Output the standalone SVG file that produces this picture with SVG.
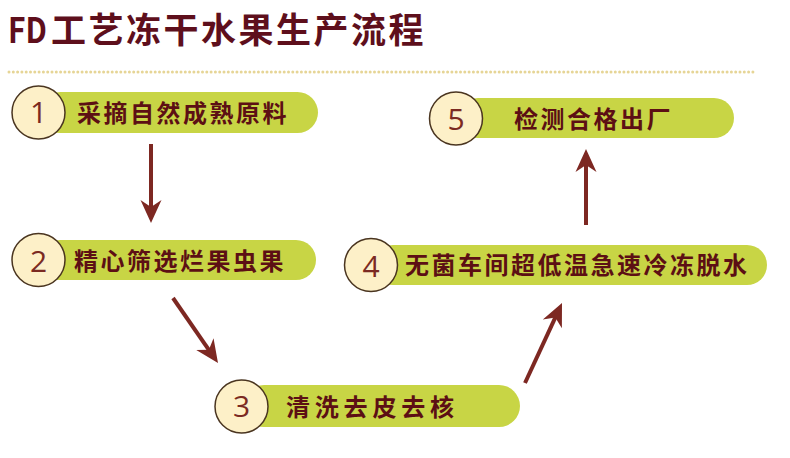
<svg xmlns="http://www.w3.org/2000/svg" width="790" height="458" viewBox="0 0 790 458">
<defs>
<style>
.title{font-family:"Noto Sans CJK SC","Liberation Sans",sans-serif;font-weight:bold;font-size:35px;fill:#5e0f1c}
.pill{fill:#c8d545}
.circ{fill:#fdf0c8;stroke:#4a3520;stroke-width:1.5}
.num{font-family:"Open Sans","Liberation Sans",sans-serif;font-size:30px;fill:#7b2a22;text-anchor:middle}
.lbl{font-family:"Noto Sans CJK SC",sans-serif;font-weight:bold;font-size:24px;fill:#5c0f14;letter-spacing:2.5px}
.arr{stroke:#7d2822;stroke-width:4;fill:none;marker-end:url(#ah)}
</style>
<marker id="ah" markerUnits="userSpaceOnUse" viewBox="-14 -11 25 22" markerWidth="25" markerHeight="22" refX="0" refY="0" orient="auto">
<path d="M10,0 L-13,-10.5 L-6,0 L-13,10.5 Z" fill="#7d2822"/>
</marker>
</defs>
<rect width="790" height="458" fill="#ffffff"/>
<text class="title" y="43"><tspan x="8" textLength="39" lengthAdjust="spacingAndGlyphs">FD</tspan><tspan x="51" letter-spacing="2.5">工艺冻干水果生产流程</tspan></text>
<line x1="9" y1="72" x2="757" y2="72" stroke="#e6d596" stroke-width="3" stroke-linecap="round" stroke-dasharray="0 4.3"/>
<g id="connectors">
<line class="arr" x1="151" y1="144" x2="151" y2="213"/>
<line class="arr" x1="173" y1="298" x2="212.3" y2="354.8"/>
<line class="arr" x1="525" y1="383" x2="557.8" y2="312.1"/>
<line class="arr" x1="586" y1="225" x2="586" y2="159"/>
</g>
<g id="node1">
<rect class="pill" x="40" y="92" width="278" height="41" rx="20.5"/>
<circle class="circ" cx="38.5" cy="112.5" r="26.5"/>
<text class="num" x="38.5" y="123">1</text>
<text class="lbl" x="77" y="121.5">采摘自然成熟原料</text>
</g>
<g id="node2">
<rect class="pill" x="40" y="240" width="276" height="40" rx="20"/>
<circle class="circ" cx="38.5" cy="260" r="26.5"/>
<text class="num" x="38.5" y="271.5">2</text>
<text class="lbl" x="74" y="270">精心筛选烂果虫果</text>
</g>
<g id="node3">
<rect class="pill" x="243" y="385" width="277" height="42" rx="21"/>
<circle class="circ" cx="241.5" cy="406.5" r="26.5"/>
<text class="num" x="241.5" y="416.5">3</text>
<text class="lbl" x="286" y="415.5" style="letter-spacing:4.8px">清洗去皮去核</text>
</g>
<g id="node4">
<rect class="pill" x="373" y="245" width="394" height="40" rx="20"/>
<circle class="circ" cx="371" cy="265" r="26.5"/>
<text class="num" x="371" y="276.5">4</text>
<text class="lbl" x="405" y="274">无菌车间超低温急速冷冻脱水</text>
</g>
<g id="node5">
<rect class="pill" x="458" y="98" width="276" height="40" rx="20"/>
<circle class="circ" cx="456" cy="118.5" r="26.5"/>
<text class="num" x="456" y="130">5</text>
<text class="lbl" x="514" y="128">检测合格出厂</text>
</g>
</svg>
